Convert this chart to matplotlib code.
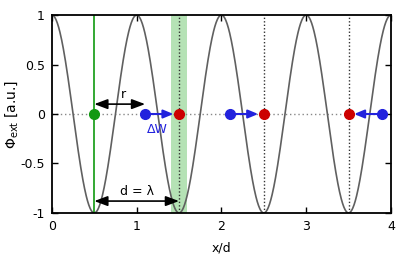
import numpy as np
import matplotlib
matplotlib.use("Agg")
import matplotlib.pyplot as plt

# data
period = 1.0
amplitude = 1.0
x_start, x_end = 0.0, 4.0
green_x = 0.5
band = (1.4, 1.6)
vlines_x = [1.5, 2.5, 3.5]
blue_x = [1.1, 2.1, 3.9]
red_x = [1.5, 2.5, 3.5]
xticks = [0, 1, 2, 3, 4]
yticks = [-1, -0.5, 0, 0.5, 1]
ytick_labels = ["-1", "-0.5", "0", "0.5", "1"]

x = np.linspace(x_start, x_end, 800)
y = amplitude * np.cos(2 * np.pi * x / period)

fig = plt.figure(figsize=(4.15, 2.6), dpi=100)
ax = fig.add_axes([0.125, 0.181, 0.817, 0.761])

ax.axvspan(band[0], band[1], color="#b5e2b5", lw=0, zorder=0)
ax.axhline(0, color="#888888", ls=(0, (1, 2)), lw=1, zorder=1)
for vx in vlines_x:
    ax.axvline(vx, color="#333333", ls=(0, (1, 1.5)), lw=1, zorder=1)
ax.plot(x, y, color="#606060", lw=1.2, zorder=2)
ax.axvline(green_x, color="#119911", lw=1.2, zorder=2)

green = "#119911"
blue = "#2222dd"
red = "#cc0000"

for bx, rx in zip(blue_x, red_x):
    ax.annotate("", xy=(rx, 0), xytext=(bx, 0),
                arrowprops=dict(arrowstyle="-|>,head_length=0.6,head_width=0.25",
                                color=blue, lw=1.5, shrinkA=0, shrinkB=4),
                zorder=3)

ax.plot([green_x], [0], "o", color=green, ms=7, zorder=4)
ax.plot(blue_x, [0] * len(blue_x), "o", color=blue, ms=7, zorder=4)
ax.plot(red_x, [0] * len(red_x), "o", color=red, ms=7, zorder=4)

ax.annotate("", xy=(green_x, 0.1), xytext=(blue_x[0], 0.1),
            arrowprops=dict(arrowstyle="<|-|>,head_length=0.8,head_width=0.3",
                            color="black", lw=1.2, shrinkA=0, shrinkB=0))
ax.text(0.84, 0.13, "r", ha="center", va="bottom", fontsize=9)

ax.annotate("", xy=(green_x, -0.88), xytext=(red_x[0], -0.88),
            arrowprops=dict(arrowstyle="<|-|>,head_length=0.8,head_width=0.3",
                            color="black", lw=1.2, shrinkA=0, shrinkB=0))
ax.text(1.0, -0.85, "d = λ", ha="center", va="bottom", fontsize=9)

ax.text(1.24, -0.16, "ΔW", ha="center", va="center", fontsize=9, color=blue)

ax.set_xlim(x_start, x_end)
ax.set_ylim(-1, 1)
ax.set_xticks(xticks)
ax.set_yticks(yticks)
ax.set_yticklabels(ytick_labels)
ax.tick_params(direction="in", top=True, right=True, length=4, width=1,
               labelsize=9, pad=5)
for s in ax.spines.values():
    s.set_linewidth(1.3)
ax.set_xlabel("x/d", fontsize=9, labelpad=6)
ax.set_ylabel("Φ$_{\\mathrm{ext}}$ [a.u.]", fontsize=10, va="center")
ax.yaxis.set_label_coords(-0.12, 0.5)

fig.savefig("out.png", dpi=100)
